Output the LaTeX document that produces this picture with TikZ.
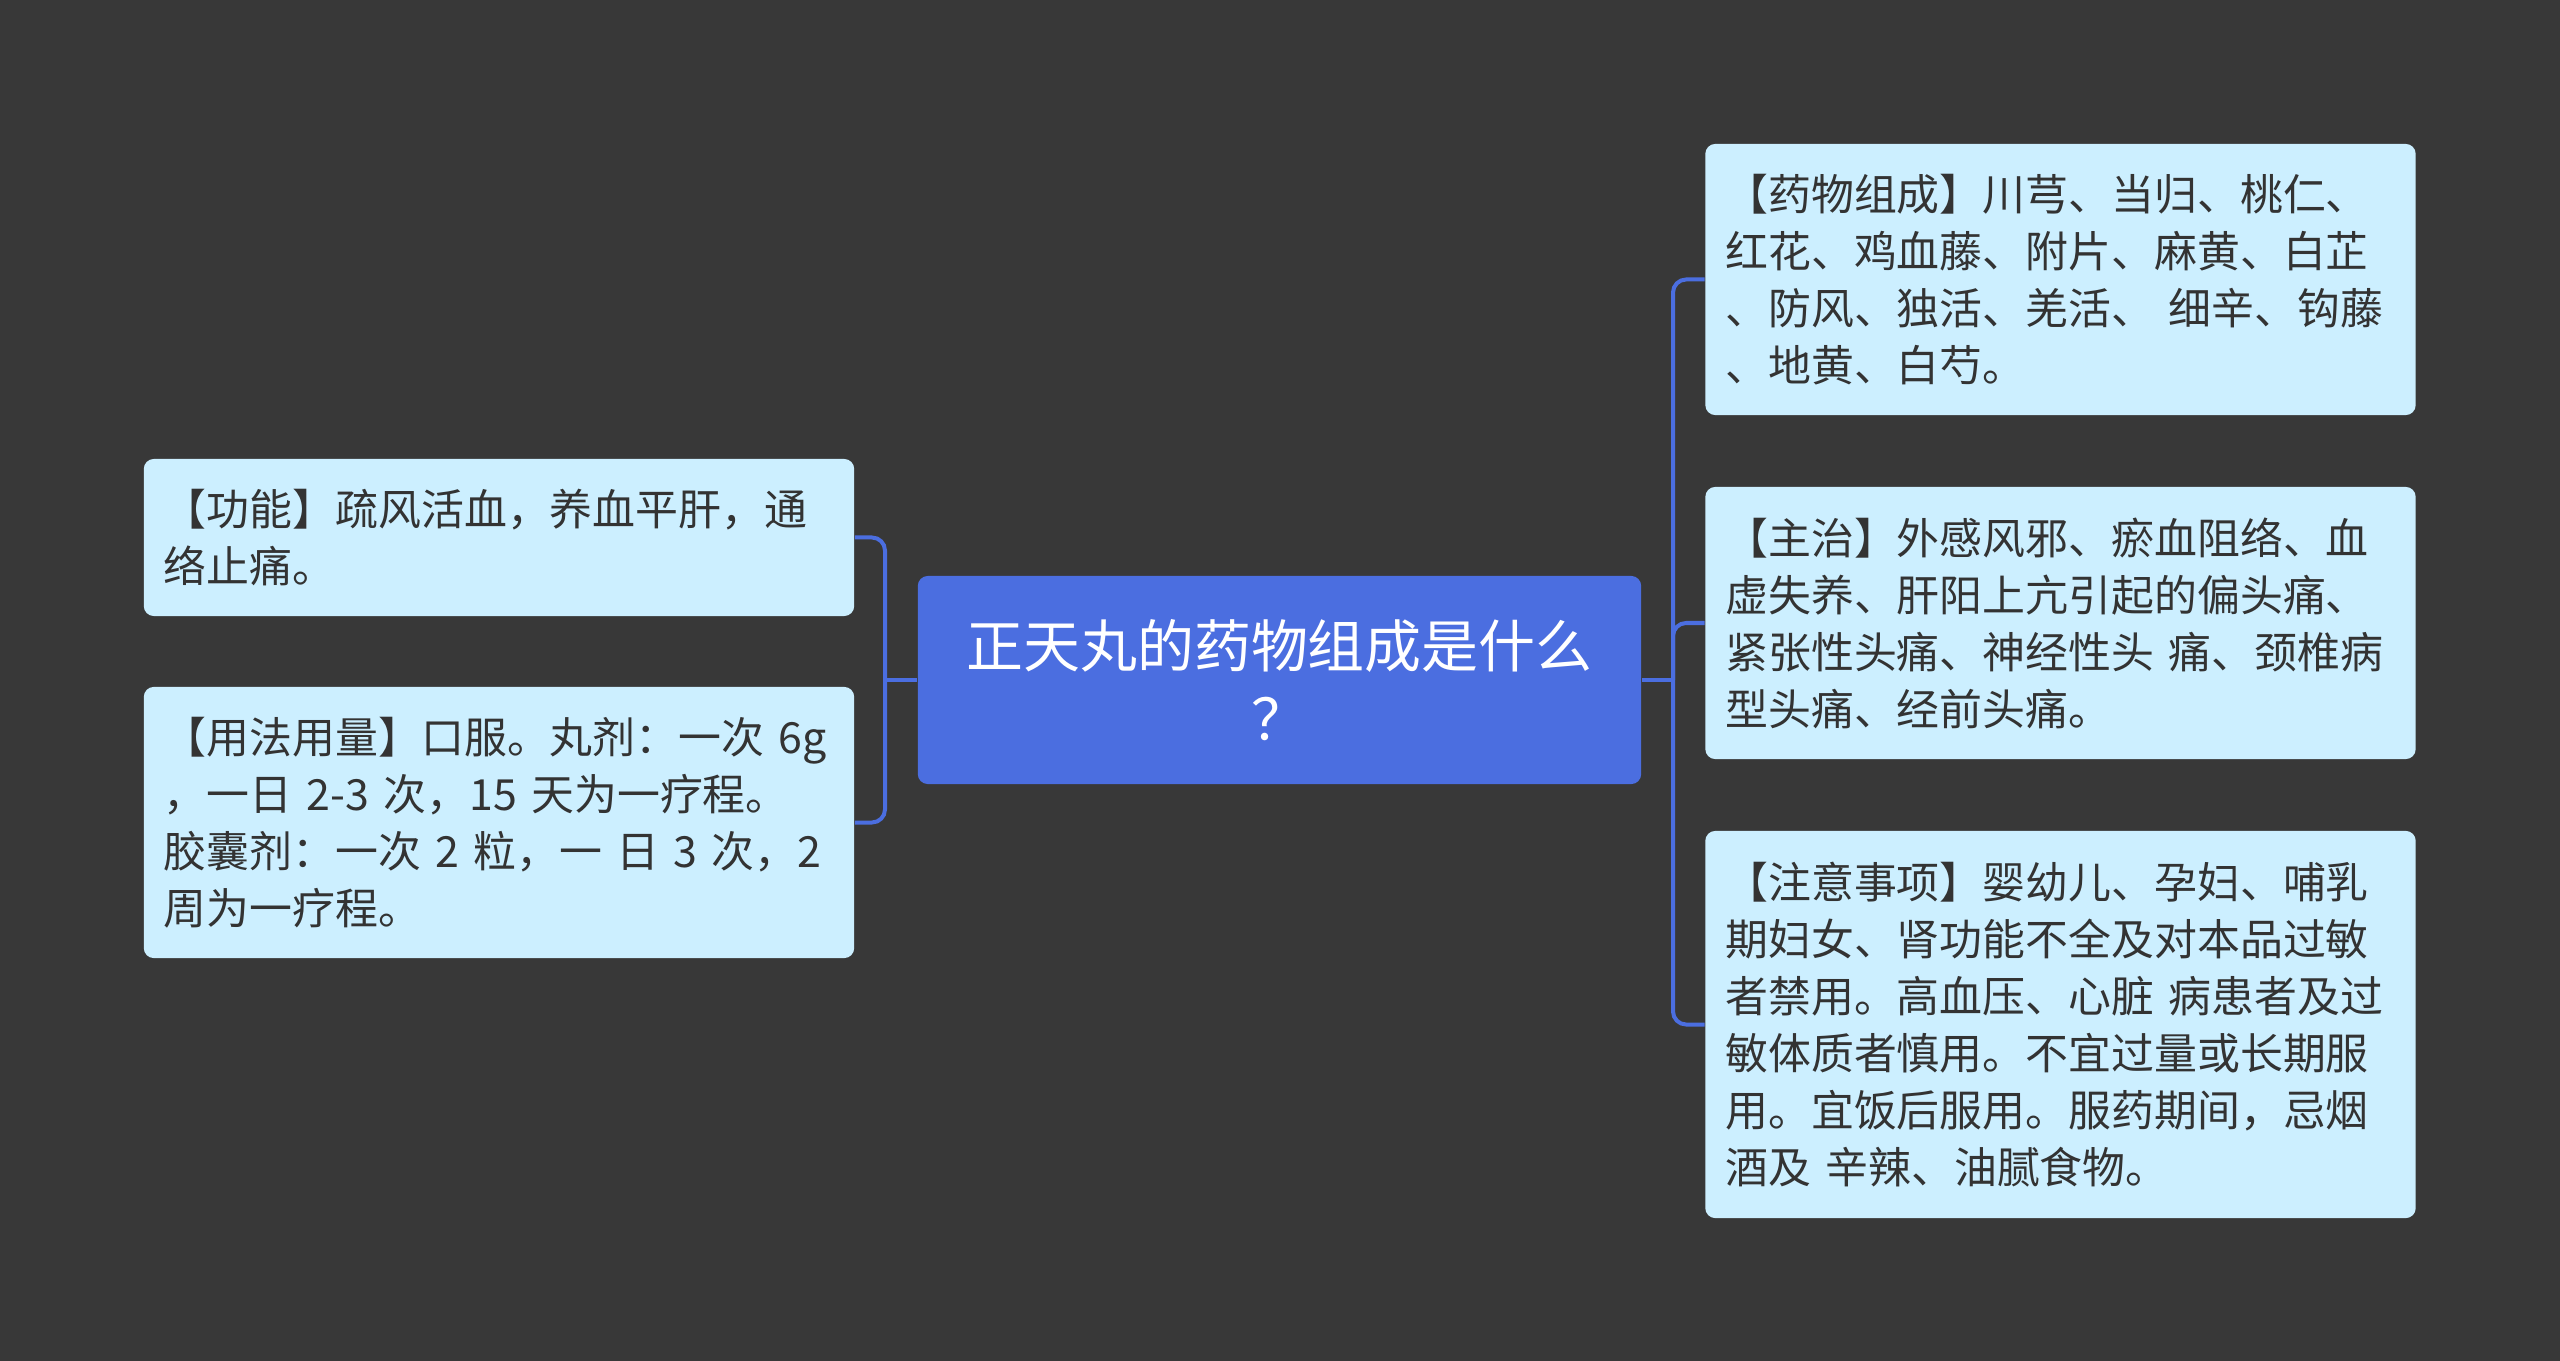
\documentclass[tikz,border=0pt]{standalone}
\usepackage{fontspec}
\setmainfont{Noto Sans CJK SC}
\definecolor{bgdark}{HTML}{383838}
\definecolor{rootblue}{HTML}{4B6EE0}
\definecolor{leafcyan}{HTML}{CCEFFF}
\definecolor{leaftext}{HTML}{333333}

\begin{document}
\begin{tikzpicture}[x=0.01cm, y=-0.01cm,
    root/.style={fill=rootblue, rounded corners=0.1cm, minimum width=7.23cm, minimum height=2.08cm, text=white, align=center, font=\fontsize{16.2}{20.8}\selectfont},
    leaf/.style={fill=leafcyan, rounded corners=0.1cm, minimum width=7.10cm, text width=6.70cm, inner xsep=0.2cm, align=left, text=leaftext, font=\fontsize{12.2}{16.2}\selectfont},
    link/.style={draw=rootblue, line width=0.04cm, rounded corners=0.13cm}]
  \fill[bgdark] (0,0) rectangle (2560,1361);

  \node[root] (main) at (1279.5,680) {正天丸的药物组成是什么\\？};

  \node[leaf, minimum height=1.57cm] (func) at (499,537.5) {【功能】疏风活血，养血平肝，通\\络止痛。};
  \node[leaf, minimum height=2.71cm] (usage) at (499,822.5) {【用法用量】口服。丸剂：一次 6g\\，一日 2-3 次，15 天为一疗程。\\胶囊剂：一次 2 粒，一 日 3 次，2\\周为一疗程。};

  \node[leaf, minimum height=2.71cm] (comp) at (2060.5,279.5) {【药物组成】川芎、当归、桃仁、\\红花、鸡血藤、附片、麻黄、白芷\\、防风、独活、羌活、 细辛、钩藤\\、地黄、白芍。};
  \node[leaf, minimum height=2.72cm] (treat) at (2060.5,623) {【主治】外感风邪、瘀血阻络、血\\虚失养、肝阳上亢引起的偏头痛、\\紧张性头痛、神经性头 痛、颈椎病\\型头痛、经前头痛。};
  \node[leaf, minimum height=3.87cm] (caution) at (2060.5,1024.5) {【注意事项】婴幼儿、孕妇、哺乳\\期妇女、肾功能不全及对本品过敏\\者禁用。高血压、心脏 病患者及过\\敏体质者慎用。不宜过量或长期服\\用。宜饭后服用。服药期间，忌烟\\酒及 辛辣、油腻食物。};

  \coordinate (lj) at (885,680);
  \coordinate (rj) at (1673,680);
  \draw[link] (main.west) -- (lj);
  \draw[link] (lj) |- (func.east);
  \draw[link] (lj) |- (usage.east);
  \draw[link] (main.east) -- (rj);
  \draw[link] (rj) |- (comp.west);
  \draw[link] (rj) |- (treat.west);
  \draw[link] (rj) |- (caution.west);
\end{tikzpicture}
\end{document}
